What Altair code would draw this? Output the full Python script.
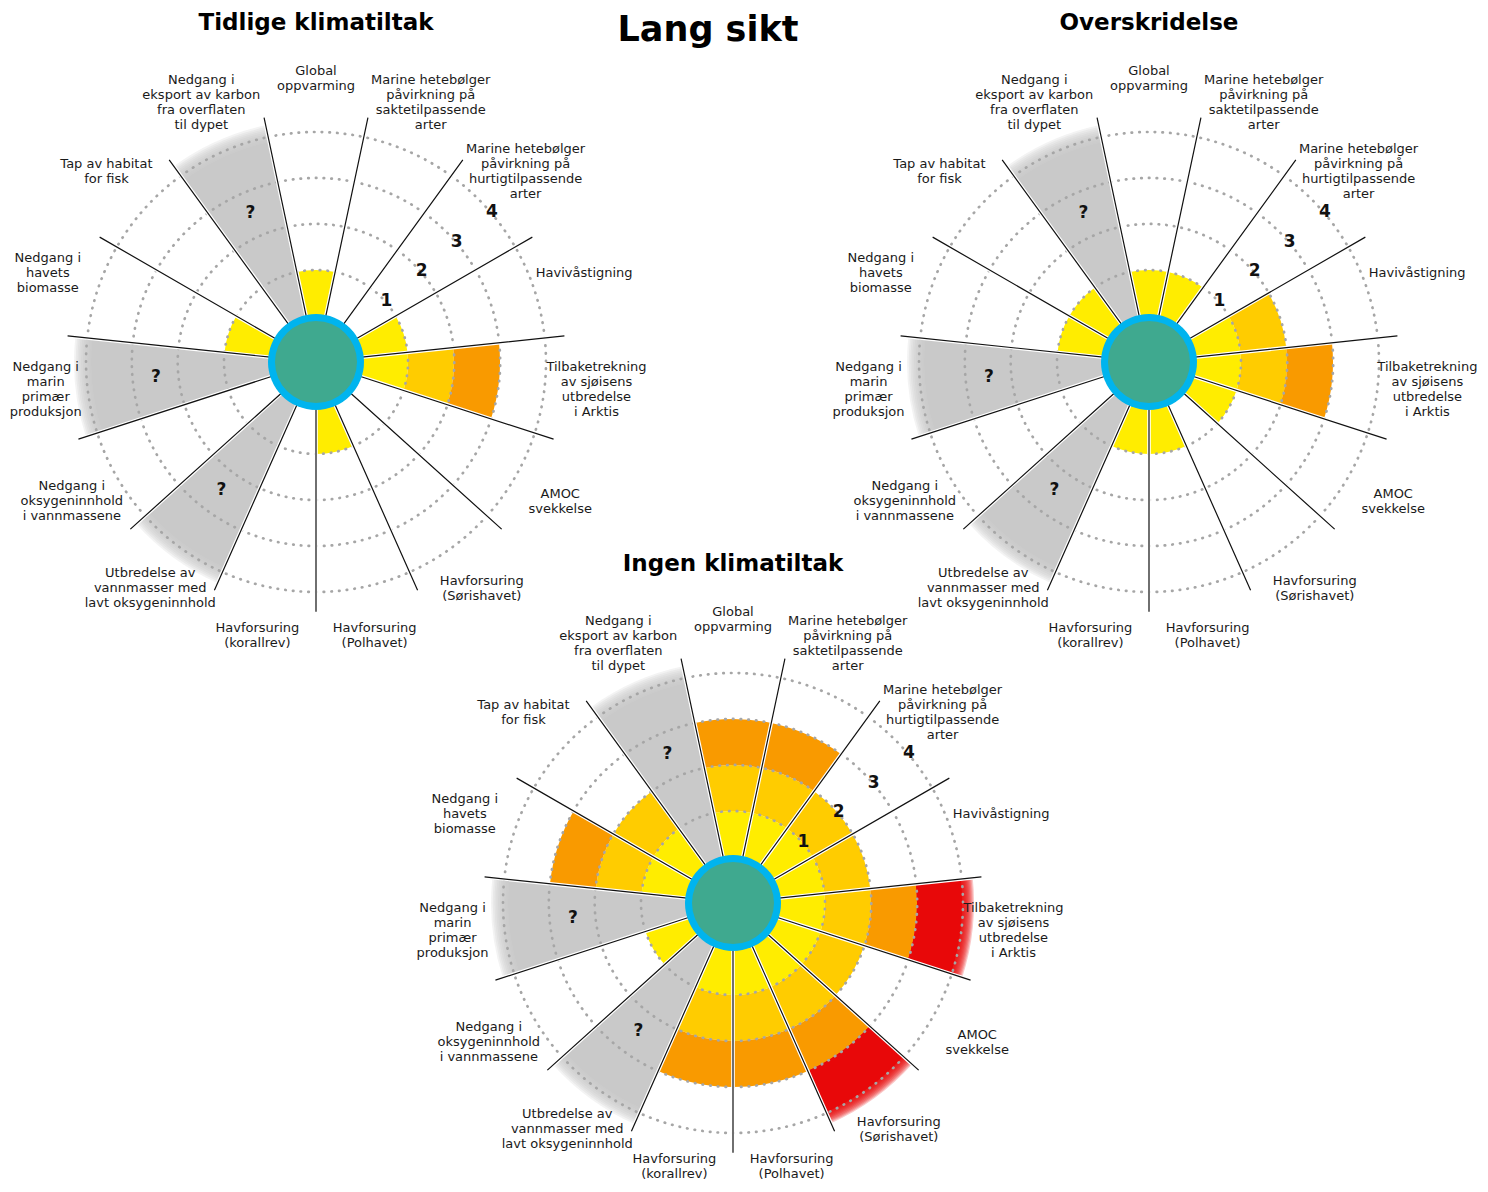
import math
import altair as alt
import pandas as pd

# ------------------------------------------------------------------ data
CATEGORIES = [
    "Global\noppvarming",
    "Marine hetebølger\npåvirkning på\nsaktetilpassende\narter",
    "Marine hetebølger\npåvirkning på\nhurtigtilpassende\narter",
    "Havivåstigning",
    "Tilbaketrekning\nav sjøisens\nutbredelse\ni Arktis",
    "AMOC\nsvekkelse",
    "Havforsuring\n(Sørishavet)",
    "Havforsuring\n(Polhavet)",
    "Havforsuring\n(korallrev)",
    "Utbredelse av\nvannmasser med\nlavt oksygeninnhold",
    "Nedgang i\noksygeninnhold\ni vannmassene",
    "Nedgang i\nmarin\nprimær\nproduksjon",
    "Nedgang i\nhavets\nbiomasse",
    "Tap av habitat\nfor fisk",
    "Nedgang i\neksport av karbon\nfra overflaten\ntil dypet",
]
SUPER_TITLE = "Lang sikt"
PANELS = ["Tidlige klimatiltak", "Overskridelse", "Ingen klimatiltak"]
# risk level reached per category (0 = none, "?" = unknown)
LEVELS_TIDLIGE = [1, 0, 0, 1, 3, 0, 0, 1, 0, "?", 0, "?", 1, 0, "?"]
LEVELS_OVERSKRIDELSE = [1, 1, 0, 2, 3, 1, 0, 1, 1, "?", 0, "?", 1, 1, "?"]
LEVELS_INGEN = [3, 3, 2, 2, 4, 2, 4, 3, 3, "?", 1, "?", 3, 2, "?"]
LEVEL_TICKS = [1, 2, 3, 4]
RISK_NAMES = ["1", "2", "3", "4", "?"]
RISK_COLORS = ["#FFED00", "#FFCC00", "#F99A00", "#E8080A", "#C9C9C9"]

# ------------------------------------------------------------------ layout / style
W, H = 1472, 1176          # drawing area; page pixel = value (8px page margin)
X0, Y0 = 8, 8
PANEL_CX = [316, 1149, 733]
PANEL_CY = [362, 362, 903]
TITLE_DY = -339
N = len(CATEGORIES)
FONT = "DejaVu Sans"
LINE_TOP = 4.43          # radial separator length (in level units)
LABEL_R_PX = 282         # category label radius in px
LABEL_FS, LABEL_LH = 13, 15
QMARK_R = 2.5
TICK_T = 2.58            # angular position of 1..4 tick labels (category units)
FADE = {"?": (3.88, 4.26), "4": (3.98, 4.24)}
FADE_STEPS = 10
FADE_ALPHA = 0.22

TS = alt.Scale(domain=[0, N], range=[-math.pi / N, 2 * math.pi - math.pi / N],
               zero=False, nice=False)
RS = alt.Scale(type="linear", domain=[0, 4], range=[46, 230], zero=False, nice=False)
XS = alt.Scale(domain=[X0, X0 + W], zero=False, nice=False)
YS = alt.Scale(domain=[Y0, Y0 + H], zero=False, nice=False, reverse=True)
CS = alt.Scale(domain=RISK_NAMES, range=RISK_COLORS)


def xy():
    return dict(x=alt.X("cx:Q", scale=XS, axis=None),
                y=alt.Y("cy:Q", scale=YS, axis=None))


_NARROW = {"i": 0.28, "l": 0.28, "j": 0.28, "t": 0.39, "r": 0.41, "f": 0.35,
           " ": 0.32, "(": 0.39, ")": 0.39, "m": 0.97, "ø": 0.61, "å": 0.61}


def text_width(s, fs):
    return sum(_NARROW.get(c, 0.72 if c.isupper() else 0.62) for c in s) * fs


levels_by_panel = [LEVELS_TIDLIGE, LEVELS_OVERSKRIDELSE, LEVELS_INGEN]

bars, qmarks, labels, ticks, lines, rings, hubs, titles = [], [], [], [], [], [], [], []
for p, name in enumerate(PANELS):
    cx, cy = PANEL_CX[p], PANEL_CY[p]
    hubs.append(dict(cx=cx, cy=cy))
    titles.append(dict(cx=cx, cy=cy + TITLE_DY, txt=name))
    for k in LEVEL_TICKS:
        ticks.append(dict(cx=cx, cy=cy, t=TICK_T, r=k, txt=str(k)))
        rings.append(dict(cx=cx, cy=cy, t0=0, t1=N, r1=k))
    for i, lv in enumerate(levels_by_panel[p]):
        # category label: anchored around the sector's mid-angle, kept inside the page
        ang = 2 * math.pi * i / N
        txt = CATEGORIES[i]
        parts = txt.split("\n")
        half_w = max(text_width(s, LABEL_FS) for s in parts) / 2
        half_h = len(parts) * LABEL_LH / 2
        lx = cx + LABEL_R_PX * math.sin(ang)
        ly = cy - LABEL_R_PX * math.cos(ang)
        lx = min(max(lx, X0 + half_w + 1), X0 + W - half_w - 1)
        ly = min(ly, Y0 + H - half_h - 1)
        labels.append(dict(cx=lx, cy=ly - (len(parts) - 1) * LABEL_LH / 2, txt=txt))

        lines.append(dict(cx=cx, cy=cy, t0=i, t1=i, r0=0, r1=LINE_TOP))
        if lv == "?":
            segs = [(0, 4, "?")]
            qmarks.append(dict(cx=cx, cy=cy, t=i + 0.5, r=QMARK_R, txt="?"))
        else:
            segs = [(k, k + 1, str(k + 1)) for k in range(lv)]
        for a, b, kind in segs:
            if b == 4:
                solid, end = FADE[kind]
                bars.append(dict(cx=cx, cy=cy, t0=i, t1=i + 1, r0=a, r1=solid,
                                 kind=kind, op=1.0))
                for s in range(FADE_STEPS):
                    bars.append(dict(cx=cx, cy=cy, t0=i, t1=i + 1, r0=a,
                                     r1=solid + (end - solid) * (s + 1) / FADE_STEPS,
                                     kind=kind, op=FADE_ALPHA))
            else:
                bars.append(dict(cx=cx, cy=cy, t0=i, t1=i + 1, r0=a, r1=b,
                                 kind=kind, op=1.0))

bar_layer = alt.Chart(pd.DataFrame(bars)).mark_arc().encode(
    **xy(),
    theta=alt.Theta("t0:Q", scale=TS, stack=False),
    theta2="t1:Q",
    radius=alt.Radius("r1:Q", scale=RS),
    radius2="r0:Q",
    color=alt.Color("kind:N", scale=CS, legend=None),
    opacity=alt.Opacity("op:Q", scale=None),
)

ring_layer = alt.Chart(pd.DataFrame(rings)).mark_arc(
    fillOpacity=0, stroke="#a6a6a6", strokeWidth=2.7, strokeDash=[0.5, 7.2], strokeCap="round"
).encode(
    **xy(),
    theta=alt.Theta("t0:Q", scale=TS, stack=False),
    theta2="t1:Q",
    radius=alt.Radius("r1:Q", scale=RS),
)

lines_df = pd.DataFrame(lines)
halo_layer = alt.Chart(lines_df).mark_arc(fillOpacity=0, stroke="white", strokeWidth=3.6).encode(
    **xy(),
    theta=alt.Theta("t0:Q", scale=TS, stack=False),
    theta2="t1:Q",
    radius=alt.Radius("r1:Q", scale=RS),
    radius2="r0:Q",
)
line_layer = alt.Chart(lines_df).mark_arc(fillOpacity=0, stroke="#111111", strokeWidth=1.2).encode(
    **xy(),
    theta=alt.Theta("t0:Q", scale=TS, stack=False),
    theta2="t1:Q",
    radius=alt.Radius("r1:Q", scale=RS),
    radius2="r0:Q",
)

hubs_df = pd.DataFrame(hubs)
hub_outer = alt.Chart(hubs_df).mark_arc(color="#00B4EE").encode(
    **xy(), theta=alt.value(0), theta2=alt.value(2 * math.pi), radius=alt.value(48))
hub_inner = alt.Chart(hubs_df).mark_arc(color="#3FA98F").encode(
    **xy(), theta=alt.value(0), theta2=alt.value(2 * math.pi), radius=alt.value(41))

q_layer = alt.Chart(pd.DataFrame(qmarks)).mark_text(
    font=FONT, fontSize=17, fontWeight="bold", color="#111111", align="center",
    baseline="middle", dy=-2
).encode(**xy(), theta=alt.Theta("t:Q", scale=TS, stack=False),
         radius=alt.Radius("r:Q", scale=RS), text="txt:N")

tick_layer = alt.Chart(pd.DataFrame(ticks)).mark_text(
    font=FONT, fontSize=17, fontWeight="bold", color="#111111", align="center",
    baseline="middle", dy=-2
).encode(**xy(), theta=alt.Theta("t:Q", scale=TS, stack=False),
         radius=alt.Radius("r:Q", scale=RS), text="txt:N")

label_layer = alt.Chart(pd.DataFrame(labels)).mark_text(
    font=FONT, fontSize=LABEL_FS, lineBreak="\n", lineHeight=LABEL_LH, color="#1a1a1a",
    align="center", baseline="middle", dy=-2
).encode(**xy(), text="txt:N")

title_layer = alt.Chart(pd.DataFrame(titles)).mark_text(
    font=FONT, fontSize=23, fontWeight="bold", color="#000000", align="center",
    baseline="middle"
).encode(**xy(), text="txt:N")

super_layer = alt.Chart(pd.DataFrame([dict(cx=708, cy=41, txt=SUPER_TITLE)])).mark_text(
    font=FONT, fontSize=35, fontWeight="bold", color="#000000", align="center",
    baseline="alphabetic"
).encode(**xy(), text="txt:N")

chart = alt.layer(
    bar_layer, ring_layer, halo_layer, line_layer, hub_outer, hub_inner,
    q_layer, tick_layer, label_layer, title_layer, super_layer,
).properties(
    width=W, height=H, padding=0, autosize=alt.AutoSizeParams(type="none"),
    background="white",
).configure_view(strokeWidth=0)

chart.save("out.html", embed_options={"renderer": "svg", "actions": False})
